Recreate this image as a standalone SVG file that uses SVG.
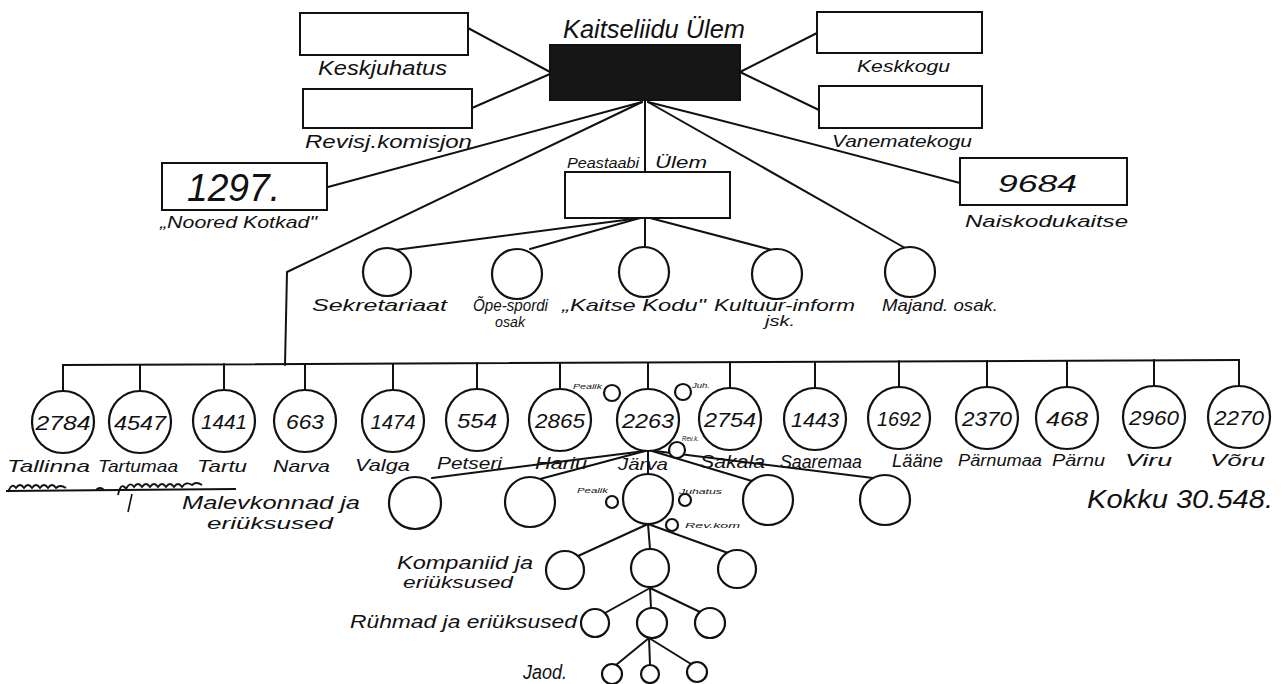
<svg xmlns="http://www.w3.org/2000/svg" width="1282" height="684" viewBox="0 0 1282 684">
<style>
.ln{stroke:#111;stroke-width:2;fill:none;stroke-linecap:round;stroke-linejoin:round}
.bx{fill:#fff;stroke:#111;stroke-width:2}
.c{fill:#fff;stroke:#111;stroke-width:2.2}
.t{font-family:'Liberation Sans',Arial,sans-serif;font-style:italic;fill:#111}
.n{font-family:'Liberation Sans',Arial,sans-serif;font-style:italic;fill:#111;font-size:21px;text-anchor:middle}
.s{font-family:'Liberation Sans',Arial,sans-serif;font-style:italic;fill:#111;font-size:8px}
</style>
<rect width="1282" height="684" fill="#fff"/>
<g id="connectors">
<path class="ln" d="M468,28 L550,72"/>
<path class="ln" d="M472,108 L550,74"/>
<path class="ln" d="M740,72 L817,33"/>
<path class="ln" d="M740,72 L819,110"/>
<path class="ln" d="M642,102 L328,187"/>
<path class="ln" d="M642,102 L287,272 L285,365"/>
<path class="ln" d="M645,100 L645,172"/>
<path class="ln" d="M648,102 Q800,140 960,183"/>
<path class="ln" d="M648,102 L905,248"/>
<path class="ln" d="M640,218 L395,250"/>
<path class="ln" d="M640,218 L530,249"/>
<path class="ln" d="M645,218 L645,247"/>
<path class="ln" d="M650,218 L772,250"/>
<path class="ln" d="M63,365 L1239,360"/>
<path class="ln" d="M63,365 V391 M140,365 V391 M224,364 V390 M305,364 V390 M393,364 V390 M477,363 V389 M560,363 V389 M648,363 V389 M730,362 V388 M815,362 V388 M899,361 V387 M987,361 V387 M1067,361 V387 M1154,360 V386 M1239,360 V386"/>
<path class="ln" d="M645,451 L432,478"/>
<path class="ln" d="M645,451 L540,479"/>
<path class="ln" d="M648,451 L648,474"/>
<path class="ln" d="M652,451 L752,481"/>
<path class="ln" d="M655,451 L873,478"/>
<path class="ln" d="M648,524 L578,556"/>
<path class="ln" d="M648,524 L650,549"/>
<path class="ln" d="M648,524 L728,553"/>
<path class="ln" d="M650,588 L605,613"/>
<path class="ln" d="M650,588 L651,608"/>
<path class="ln" d="M650,588 L700,612"/>
<path class="ln" d="M649,638 L616,665"/>
<path class="ln" d="M649,638 L650,664"/>
<path class="ln" d="M649,638 L691,664"/>
</g>
<g id="kaitseliidu-ulem">
<rect x="550" y="45" width="190" height="55" fill="#161616" stroke="#111" stroke-width="2"/>
<text class="t" x="563" y="38" font-size="25" textLength="182" lengthAdjust="spacingAndGlyphs">Kaitseliidu Ülem</text>
</g>
<g id="keskjuhatus">
<rect class="bx" x="300" y="13" width="168" height="42"/>
<text class="t" x="318" y="75" font-size="20" textLength="129" lengthAdjust="spacingAndGlyphs">Keskjuhatus</text>
</g>
<g id="revisjonikomisjon">
<rect class="bx" x="303" y="89" width="169" height="39"/>
<text class="t" x="305" y="148" font-size="18" textLength="167" lengthAdjust="spacingAndGlyphs">Revisj.komisjon</text>
</g>
<g id="keskkogu">
<rect class="bx" x="817" y="12" width="165" height="41"/>
<text class="t" x="857" y="72" font-size="16" textLength="93" lengthAdjust="spacingAndGlyphs">Keskkogu</text>
</g>
<g id="vanematekogu">
<rect class="bx" x="819" y="86" width="163" height="42"/>
<text class="t" x="832" y="147" font-size="17" textLength="140" lengthAdjust="spacingAndGlyphs">Vanematekogu</text>
</g>
<g id="noored-kotkad">
<rect class="bx" x="162" y="163" width="165" height="47"/>
<text class="t" x="187" y="201" font-size="38" textLength="93" lengthAdjust="spacingAndGlyphs">1297.</text>
<text class="t" x="160" y="228" font-size="17" textLength="157" lengthAdjust="spacingAndGlyphs">„Noored Kotkad"</text>
</g>
<g id="naiskodukaitse">
<rect class="bx" x="960" y="158" width="167" height="47"/>
<text class="t" x="998" y="192" font-size="24" textLength="79" lengthAdjust="spacingAndGlyphs">9684</text>
<text class="t" x="965" y="227" font-size="17" textLength="163" lengthAdjust="spacingAndGlyphs">Naiskodukaitse</text>
</g>
<g id="peastaabi-ulem">
<rect class="bx" x="565" y="172" width="165" height="46"/>
<text class="t" x="567" y="168" font-size="15" textLength="72" lengthAdjust="spacingAndGlyphs">Peastaabi</text>
<text class="t" x="655" y="168" font-size="17" textLength="52" lengthAdjust="spacingAndGlyphs">Ülem</text>
</g>
<g id="sekretariaat">
<circle class="c" cx="387" cy="272" r="24"/>
<text class="t" x="312" y="311" font-size="17" textLength="135" lengthAdjust="spacingAndGlyphs">Sekretariaat</text>
</g>
<g id="ope-spordi">
<circle class="c" cx="517" cy="274" r="25"/>
<text class="t" x="473" y="311" font-size="16" textLength="75" lengthAdjust="spacingAndGlyphs">Õpe-spordi</text>
<text class="t" x="495" y="327" font-size="15" textLength="30" lengthAdjust="spacingAndGlyphs">osak</text>
</g>
<g id="kaitse-kodu">
<circle class="c" cx="644" cy="272" r="25"/>
<text class="t" x="562" y="311" font-size="17" textLength="144" lengthAdjust="spacingAndGlyphs">„Kaitse Kodu"</text>
</g>
<g id="kultuur-inform">
<circle class="c" cx="777" cy="274" r="25"/>
<text class="t" x="714" y="311" font-size="16" textLength="141" lengthAdjust="spacingAndGlyphs">Kultuur-inform</text>
<text class="t" x="765" y="326" font-size="14" textLength="30" lengthAdjust="spacingAndGlyphs">jsk.</text>
</g>
<g id="majand-osak">
<circle class="c" cx="910" cy="272" r="25"/>
<text class="t" x="882" y="311" font-size="17" textLength="116" lengthAdjust="spacingAndGlyphs">Majand. osak.</text>
</g>
<g id="tallinna"><circle class="c" cx="63" cy="422" r="31"/><text class="n" x="63" y="430" textLength="55" lengthAdjust="spacingAndGlyphs">2784</text><text class="t" x="7" y="472" font-size="17" textLength="83" lengthAdjust="spacingAndGlyphs">Tallinna</text></g>
<g id="tartumaa"><circle class="c" cx="140" cy="422" r="31"/><text class="n" x="140" y="430" textLength="52" lengthAdjust="spacingAndGlyphs">4547</text><text class="t" x="98" y="472" font-size="17" textLength="80" lengthAdjust="spacingAndGlyphs">Tartumaa</text></g>
<g id="tartu"><circle class="c" cx="224" cy="421" r="31"/><text class="n" x="224" y="429" textLength="46" lengthAdjust="spacingAndGlyphs">1441</text><text class="t" x="197" y="472" font-size="17" textLength="50" lengthAdjust="spacingAndGlyphs">Tartu</text></g>
<g id="narva"><circle class="c" cx="305" cy="421" r="31"/><text class="n" x="305" y="429" textLength="38" lengthAdjust="spacingAndGlyphs">663</text><text class="t" x="273" y="472" font-size="17" textLength="57" lengthAdjust="spacingAndGlyphs">Narva</text></g>
<g id="valga"><circle class="c" cx="393" cy="421" r="31"/><text class="n" x="393" y="429" textLength="45" lengthAdjust="spacingAndGlyphs">1474</text><text class="t" x="355" y="471" font-size="17" textLength="55" lengthAdjust="spacingAndGlyphs">Valga</text></g>
<g id="petseri"><circle class="c" cx="477" cy="420" r="31"/><text class="n" x="477" y="428" textLength="40" lengthAdjust="spacingAndGlyphs">554</text><text class="t" x="437" y="469" font-size="17" textLength="65" lengthAdjust="spacingAndGlyphs">Petseri</text></g>
<g id="hariu"><circle class="c" cx="560" cy="420" r="31"/><text class="n" x="560" y="428" textLength="50" lengthAdjust="spacingAndGlyphs">2865</text><text class="t" x="535" y="469" font-size="17" textLength="52" lengthAdjust="spacingAndGlyphs">Hariu</text></g>
<g id="jarva">
<circle class="c" cx="648" cy="420" r="31"/><text class="n" x="648" y="428" textLength="52" lengthAdjust="spacingAndGlyphs">2263</text><text class="t" x="618" y="470" font-size="17" textLength="50" lengthAdjust="spacingAndGlyphs">Järva</text>
<circle class="c" cx="612" cy="393" r="8"/><text class="s" x="573" y="389" textLength="29" lengthAdjust="spacingAndGlyphs">Pealik</text>
<circle class="c" cx="683" cy="392" r="8"/><text class="s" x="692" y="388" textLength="18" lengthAdjust="spacingAndGlyphs">Juh.</text>
<circle class="c" cx="677" cy="450" r="8"/><text class="s" x="682" y="441" font-size="7" textLength="17" lengthAdjust="spacingAndGlyphs">Rev.k.</text>
</g>
<g id="sakala"><circle class="c" cx="730" cy="419" r="31"/><text class="n" x="730" y="427" textLength="52" lengthAdjust="spacingAndGlyphs">2754</text><text class="t" x="700" y="468" font-size="18" textLength="65" lengthAdjust="spacingAndGlyphs">Sakala</text></g>
<g id="saaremaa"><circle class="c" cx="815" cy="419" r="31"/><text class="n" x="815" y="427" textLength="48" lengthAdjust="spacingAndGlyphs">1443</text><text class="t" x="780" y="468" font-size="18" textLength="82" lengthAdjust="spacingAndGlyphs">Saaremaa</text></g>
<g id="laane"><circle class="c" cx="899" cy="418" r="31"/><text class="n" x="899" y="426" textLength="44" lengthAdjust="spacingAndGlyphs">1692</text><text class="t" x="892" y="467" font-size="18" textLength="51" lengthAdjust="spacingAndGlyphs">Lääne</text></g>
<g id="parnumaa"><circle class="c" cx="987" cy="418" r="31"/><text class="n" x="987" y="426" textLength="50" lengthAdjust="spacingAndGlyphs">2370</text><text class="t" x="958" y="466" font-size="16" textLength="84" lengthAdjust="spacingAndGlyphs">Pärnumaa</text></g>
<g id="parnu"><circle class="c" cx="1067" cy="418" r="31"/><text class="n" x="1067" y="426" textLength="42" lengthAdjust="spacingAndGlyphs">468</text><text class="t" x="1052" y="466" font-size="16" textLength="53" lengthAdjust="spacingAndGlyphs">Pärnu</text></g>
<g id="viru"><circle class="c" cx="1154" cy="417" r="31"/><text class="n" x="1154" y="425" textLength="50" lengthAdjust="spacingAndGlyphs">2960</text><text class="t" x="1125" y="466" font-size="17" textLength="47" lengthAdjust="spacingAndGlyphs">Viru</text></g>
<g id="voru"><circle class="c" cx="1239" cy="417" r="31"/><text class="n" x="1239" y="425" textLength="50" lengthAdjust="spacingAndGlyphs">2270</text><text class="t" x="1210" y="466" font-size="17" textLength="55" lengthAdjust="spacingAndGlyphs">Võru</text></g>
<g id="kokku">
<text class="t" x="1087" y="508" font-size="26" textLength="186" lengthAdjust="spacingAndGlyphs">Kokku 30.548.</text>
</g>
<g id="strikeout">
<path d="M8,492 q4,-10 8,-4 q4,-6 8,0 q4,-6 8,0 q4,-6 8,0 q4,-6 8,0 q4,-6 8,0 q4,-4 10,0 M96,490 q4,-4 8,0 M118,495 q3,-14 8,-6 q4,-8 8,-2 q4,-6 8,0 q4,-6 8,0 q4,-6 8,0 q4,-6 8,0 q4,-6 8,0 q4,-6 8,0 q4,-6 10,-2 q4,-4 10,0" fill="none" stroke="#111" stroke-width="1.8"/>
<path d="M6,491 L236,489" fill="none" stroke="#111" stroke-width="2"/>
<path d="M132,494 L128,512" fill="none" stroke="#111" stroke-width="1.6"/>
</g>
<g id="malevkonnad">
<circle class="c" cx="415" cy="503" r="26"/>
<circle class="c" cx="530" cy="502" r="25"/>
<circle class="c" cx="648" cy="499" r="25"/>
<circle class="c" cx="768" cy="500" r="25"/>
<circle class="c" cx="885" cy="500" r="25"/>
<circle class="c" cx="612" cy="502" r="6"/><text class="s" x="577" y="493" font-size="9" textLength="31" lengthAdjust="spacingAndGlyphs">Pealik</text>
<circle class="c" cx="685" cy="500" r="6"/><text class="s" x="679" y="494" font-size="10" textLength="43" lengthAdjust="spacingAndGlyphs">Juhatus</text>
<circle class="c" cx="672" cy="525" r="6"/><text class="s" x="685" y="528" font-size="9" textLength="55" lengthAdjust="spacingAndGlyphs">Rev.kom</text>
<text class="t" x="182" y="509" font-size="18" textLength="178" lengthAdjust="spacingAndGlyphs">Malevkonnad ja</text>
<text class="t" x="207" y="529" font-size="17" textLength="126" lengthAdjust="spacingAndGlyphs">eriüksused</text>
</g>
<g id="kompaniid">
<circle class="c" cx="565" cy="570" r="19"/>
<circle class="c" cx="650" cy="568" r="19"/>
<circle class="c" cx="737" cy="569" r="19"/>
<text class="t" x="397" y="569" font-size="19" textLength="136" lengthAdjust="spacingAndGlyphs">Kompaniid ja</text>
<text class="t" x="403" y="588" font-size="16" textLength="110" lengthAdjust="spacingAndGlyphs">eriüksused</text>
</g>
<g id="ruhmad">
<circle class="c" cx="595" cy="623" r="14"/>
<circle class="c" cx="652" cy="623" r="15"/>
<circle class="c" cx="710" cy="623" r="15"/>
<text class="t" x="350" y="628" font-size="18" textLength="227" lengthAdjust="spacingAndGlyphs">Rühmad ja eriüksused</text>
</g>
<g id="jaod">
<circle class="c" cx="612" cy="674" r="10"/>
<circle class="c" cx="650" cy="674" r="9"/>
<circle class="c" cx="697" cy="672" r="10"/>
<text class="t" x="523" y="679" font-size="20" textLength="44" lengthAdjust="spacingAndGlyphs">Jaod.</text>
</g>
</svg>
